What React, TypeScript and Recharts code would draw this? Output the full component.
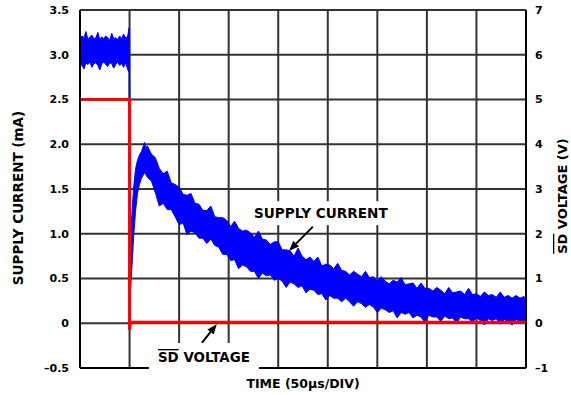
import React from 'react';
import {
  ComposedChart,
  Area,
  Line,
  XAxis,
  YAxis,
  CartesianGrid,
  ReferenceLine,
  ReferenceDot,
  Label,
} from 'recharts';

const FONT = '"DejaVu Sans", "Liberation Sans", Arial, sans-serif';

// Axis ticks
const timeTicks = [0, 50, 100, 150, 200, 250, 300, 350, 400, 450];
const currentTicks = [-0.5, 0, 0.5, 1, 1.5, 2, 2.5, 3, 3.5];
const currentTickLabels = ['–0.5', '0', '0.5', '1.0', '1.5', '2.0', '2.5', '3.0', '3.5'];
const voltageTicks = [-1, 0, 1, 2, 3, 4, 5, 6, 7];
const voltageTickLabels = ['–1', '0', '1', '2', '3', '4', '5', '6', '7'];

// Supply current (mA): noise envelope
const currentTime = [
  0, 2, 4, 6, 8, 10, 12, 14, 16, 18,
  20, 22, 24, 26, 28, 30, 32, 34, 36, 38,
  40, 42, 44, 46, 48, 49.5,
  50, 51, 52, 54, 56, 58, 60, 62, 64, 65, 66,
  68, 72, 76, 80, 84, 88, 92, 96, 100, 104,
  108, 112, 116, 120, 124, 128, 132, 136, 140, 144,
  148, 152, 156, 160, 164, 168, 172, 176, 180, 184,
  188, 192, 196, 200, 204, 208, 212, 216, 220, 224,
  228, 232, 236, 240, 244, 248, 252, 256, 260, 264,
  268, 272, 276, 280, 284, 288, 292, 296, 300, 304,
  308, 312, 316, 320, 324, 328, 332, 336, 340, 344,
  348, 352, 356, 360, 364, 368, 372, 376, 380, 384,
  388, 392, 396, 400, 404, 408, 412, 416, 420, 424,
  428, 432, 436, 440, 444, 448, 450,
];
const currentHigh = [
  3.18, 3.21, 3.19, 3.26, 3.17, 3.2, 3.22, 3.18, 3.19, 3.25,
  3.17, 3.2, 3.18, 3.21, 3.19, 3.16, 3.24, 3.18, 3.19, 3.17,
  3.21, 3.18, 3.23, 3.19, 3.2, 3.3,
  3.28, 0.75, 1.15, 1.5, 1.72, 1.82, 1.88, 1.92, 1.98, 2.02, 1.97,
  1.98, 1.89, 1.85, 1.73, 1.67, 1.7, 1.57, 1.55, 1.52, 1.44,
  1.43, 1.45, 1.34, 1.33, 1.26, 1.26, 1.31, 1.19, 1.18, 1.18,
  1.15, 1.08, 1.14, 1.06, 1.03, 1.04, 1.01, 0.96, 1.03, 0.94,
  0.93, 0.88, 0.91, 0.91, 0.82, 0.82, 0.81, 0.75, 0.84, 0.75,
  0.71, 0.74, 0.69, 0.74, 0.64, 0.66, 0.65, 0.61, 0.67, 0.59,
  0.58, 0.54, 0.58, 0.55, 0.52, 0.58, 0.51, 0.52, 0.47, 0.52,
  0.47, 0.44, 0.48, 0.46, 0.51, 0.43, 0.44, 0.45, 0.39, 0.45,
  0.39, 0.39, 0.36, 0.4, 0.37, 0.33, 0.4, 0.34, 0.35, 0.36,
  0.32, 0.39, 0.32, 0.33, 0.3, 0.35, 0.31, 0.32, 0.29, 0.35,
  0.29, 0.31, 0.28, 0.31, 0.28, 0.3, 0.25,
];
const currentLow = [
  2.9, 2.88, 2.84, 2.91, 2.89, 2.92, 2.86, 2.9, 2.91, 2.88,
  2.83, 2.9, 2.92, 2.89, 2.87, 2.91, 2.9, 2.85, 2.89, 2.92,
  2.88, 2.9, 2.86, 2.91, 2.84, 2.8,
  0.38, 0.38, 0.55, 0.95, 1.25, 1.45, 1.55, 1.62, 1.66, 1.68, 1.67,
  1.63, 1.59, 1.46, 1.31, 1.34, 1.27, 1.27, 1.19, 1.1, 1.12,
  0.99, 1.03, 1.01, 0.95, 0.95, 0.89, 0.94, 0.87, 0.85, 0.77,
  0.77, 0.7, 0.71, 0.61, 0.65, 0.63, 0.58, 0.58, 0.5, 0.56,
  0.53, 0.54, 0.48, 0.5, 0.47, 0.4, 0.46, 0.44, 0.4, 0.42,
  0.34, 0.38, 0.37, 0.32, 0.33, 0.26, 0.31, 0.28, 0.28, 0.24,
  0.28, 0.24, 0.19, 0.24, 0.22, 0.18, 0.21, 0.18, 0.12, 0.17,
  0.15, 0.12, 0.14, 0.06, 0.12, 0.1, 0.12, 0.06, 0.09, 0.07,
  0.01, 0.09, 0.07, 0.07, 0.02, 0.08, 0.05, 0.06, 0.0, 0.07,
  0.05, 0.05, 0.01, 0.06, 0.03, -0.02, 0.05, 0.03, 0.05, -0.01,
  0.04, 0.02, -0.02, 0.04, 0.02, 0.03, 0.01,
];

// SD voltage (V)
const sdTime = [0, 50, 50, 51, 450];
const sdVoltage = [5, 5, -0.15, 0.02, 0.02];

const currentData = currentTime.map((t, i) => ({ t, band: [currentLow[i], currentHigh[i]] }));
const sdData = sdTime.map((t, i) => ({ t, v: sdVoltage[i] }));

const tickStyle = { fontFamily: FONT, fontSize: 11, fontWeight: 'bold', fill: '#000' };

const NoTick = () => <g />;

const Arrow = (props: any) => {
  const { x1, y1, x2, y2 } = props;
  const dx = x2 - x1;
  const dy = y2 - y1;
  const len = Math.sqrt(dx * dx + dy * dy) || 1;
  const ux = dx / len;
  const uy = dy / len;
  const hl = 10;
  const hw = 4;
  const bx = x2 - ux * hl;
  const by = y2 - uy * hl;
  const pts = `${x2},${y2} ${bx - uy * hw},${by + ux * hw} ${bx + uy * hw},${by - ux * hw}`;
  return (
    <g>
      <line x1={x1} y1={y1} x2={bx} y2={by} stroke="#000" strokeWidth={2} />
      <polygon points={pts} fill="#000" />
    </g>
  );
};

const SupplyLabel = (props: any) => {
  const { cx, cy } = props;
  return (
    <g>
      <rect x={cx - 72} y={cy - 12} width={144} height={24} fill="#fff" />
      <text x={cx} y={cy + 5} textAnchor="middle" fontFamily={FONT} fontSize={13.6} fontWeight="bold" fill="#000">
        SUPPLY CURRENT
      </text>
    </g>
  );
};

const SdLabel = (props: any) => {
  const { cx, cy } = props;
  return (
    <g>
      <rect x={cx - 55} y={cy - 14} width={110} height={26} fill="#fff" />
      <text x={cx} y={cy + 5} textAnchor="middle" fontFamily={FONT} fontSize={13.4} fontWeight="bold" fill="#000">
        <tspan style={{ textDecoration: 'overline' }}>SD</tspan>
        <tspan> VOLTAGE</tspan>
      </text>
    </g>
  );
};

export default function App() {
  return (
    <div style={{ position: 'absolute', left: 0, top: 0, width: 571, height: 395, background: '#fff' }}>
      <ComposedChart width={571} height={395} margin={{ top: 10, right: 5, bottom: 0, left: 20 }}>
        <CartesianGrid yAxisId="left" stroke="#333" strokeWidth={2} horizontal vertical />
        <XAxis
          dataKey="t"
          type="number"
          domain={[0, 450]}
          ticks={timeTicks}
          tick={<NoTick />}
          tickLine={false}
          axisLine={{ stroke: '#000', strokeWidth: 2 }}
          height={27}
        >
          <Label
            content={(p: any) => {
              const vb = p.viewBox;
              return (
                <text
                  x={vb.x + vb.width / 2}
                  y={vb.y + 20}
                  textAnchor="middle"
                  fontFamily={FONT}
                  fontSize={12.5}
                  fontWeight="bold"
                  fill="#000"
                >
                  TIME (50µs/DIV)
                </text>
              );
            }}
          />
        </XAxis>
        <XAxis
          xAxisId="top"
          orientation="top"
          dataKey="t"
          type="number"
          domain={[0, 450]}
          ticks={timeTicks}
          tick={<NoTick />}
          tickLine={false}
          axisLine={{ stroke: '#000', strokeWidth: 2 }}
          height={0}
        />
        <YAxis
          yAxisId="left"
          orientation="left"
          type="number"
          domain={[-0.5, 3.5]}
          ticks={currentTicks}
          tickFormatter={(v: number) => currentTickLabels[currentTicks.indexOf(v)] ?? String(v)}
          tick={tickStyle}
          tickLine={false}
          tickSize={6}
          tickMargin={5}
          axisLine={{ stroke: '#000', strokeWidth: 2 }}
          width={60}
          allowDataOverflow
        >
          <Label
            content={(p: any) => {
              const vb = p.viewBox;
              const cx = vb.x - 2;
              const cy = vb.y + vb.height / 2 + 9;
              return (
                <text
                  x={cx}
                  y={cy}
                  transform={`rotate(-90 ${cx} ${cy})`}
                  textAnchor="middle"
                  dominantBaseline="central"
                  fontFamily={FONT}
                  fontSize={13.5}
                  fontWeight="bold"
                  fill="#000"
                >
                  SUPPLY CURRENT (mA)
                </text>
              );
            }}
          />
        </YAxis>
        <YAxis
          yAxisId="right"
          orientation="right"
          type="number"
          domain={[-1, 7]}
          ticks={voltageTicks}
          tickFormatter={(v: number) => voltageTickLabels[voltageTicks.indexOf(v)] ?? String(v)}
          tick={tickStyle}
          tickLine={false}
          tickSize={6}
          tickMargin={3}
          axisLine={{ stroke: '#000', strokeWidth: 2 }}
          width={40}
          allowDataOverflow
        >
          <Label
            content={(p: any) => {
              const vb = p.viewBox;
              const cx = vb.x + 36;
              const cy = vb.y + vb.height / 2 + 7;
              return (
                <text
                  x={cx}
                  y={cy}
                  transform={`rotate(-90 ${cx} ${cy})`}
                  textAnchor="middle"
                  dominantBaseline="central"
                  fontFamily={FONT}
                  fontSize={13}
                  fontWeight="bold"
                  fill="#000"
                >
                  <tspan style={{ textDecoration: 'overline' }}>SD</tspan>
                  <tspan> VOLTAGE (V)</tspan>
                </text>
              );
            }}
          />
        </YAxis>
        <ReferenceDot yAxisId="left" x={243} y={1.23} r={0} shape={(p: any) => <SupplyLabel {...p} />} />
        <ReferenceDot yAxisId="left" x={125} y={-0.377} r={0} shape={(p: any) => <SdLabel {...p} />} />
        <Area
          yAxisId="left"
          data={currentData}
          dataKey="band"
          type="linear"
          stroke="#0000ff"
          strokeWidth={1}
          fill="#0000ff"
          fillOpacity={1}
          dot={false}
          activeDot={false}
          isAnimationActive={false}
        />
        <Line
          yAxisId="right"
          data={sdData}
          dataKey="v"
          type="linear"
          stroke="#ff0000"
          strokeWidth={3}
          dot={false}
          activeDot={false}
          isAnimationActive={false}
        />
        <ReferenceLine
          yAxisId="left"
          segment={[{ x: 235, y: 1.08 }, { x: 211, y: 0.81 }]}
          shape={(p: any) => <Arrow {...p} />}
        />
        <ReferenceLine
          yAxisId="left"
          segment={[{ x: 123, y: -0.22 }, { x: 138, y: -0.01 }]}
          shape={(p: any) => <Arrow {...p} />}
        />
      </ComposedChart>
    </div>
  );
}
